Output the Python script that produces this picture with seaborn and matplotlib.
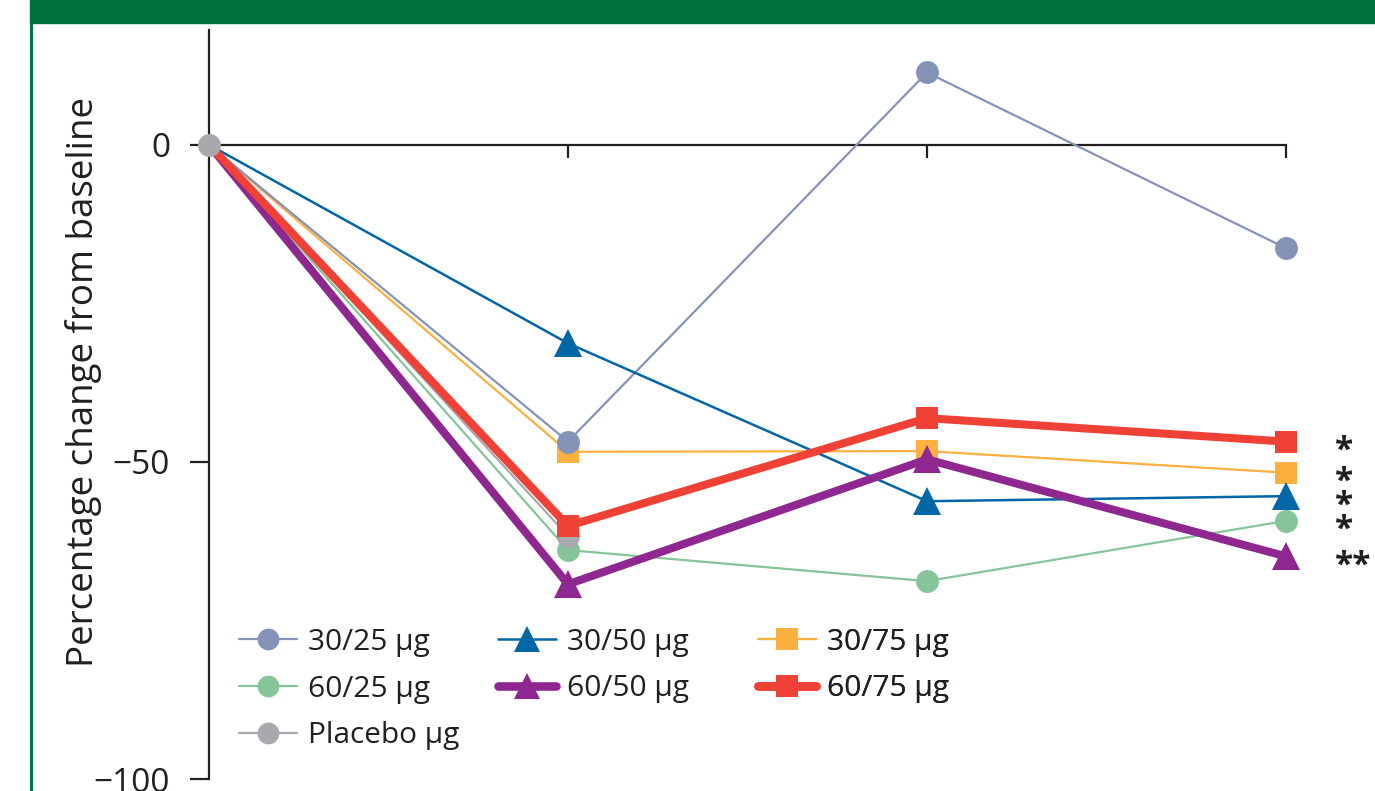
import numpy as np
import pandas as pd
import matplotlib
matplotlib.use("Agg")
import matplotlib.pyplot as plt
import seaborn as sns
from matplotlib.lines import Line2D
from matplotlib.patches import Rectangle

# visits (0 = baseline)
time = [0, 1, 2, 3]

v_30_25 = [0, -46.8, 11.4, -16.3]
v_30_50 = [0, -31.3, -56.2, -55.4]
v_30_75 = [0, -48.4, -48.3, -51.7]
v_60_25 = [0, -63.9, -68.8, -59.3]
v_60_50 = [0, -69.3, -49.6, -64.9]
v_60_75 = [0, -60.1, -43.1, -46.8]
v_placebo = [0, -61.7, np.nan, np.nan]

stars = {"60/75 μg": "*", "30/75 μg": "*", "30/50 μg": "*", "60/25 μg": "*", "60/50 μg": "**"}

sns.set_style("white")
plt.rcParams['font.family'] = ['Open Sans', 'DejaVu Sans']

ink = '#231f20'
green_frame = '#00703c'

fig = plt.figure(figsize=(13.75, 7.91), dpi=100)
fig.patch.set_facecolor('white')
ax = fig.add_axes([209/1375, 12/791, 1077/1375, 749/791])

series = {
    "30/25 μg": (v_30_25, '#8593b9', 'o', 1.6, 16.5),
    "30/50 μg": (v_30_50, '#0066a6', '^', 1.8, 19.5),
    "30/75 μg": (v_30_75, '#fbb040', 's', 1.6, 16.5),
    "60/25 μg": (v_60_25, '#86c49a', 'o', 1.6, 16.5),
    "60/50 μg": (v_60_50, '#8e278f', '^', 5.8, 19.5),
    "60/75 μg": (v_60_75, '#ef4136', 's', 5.8, 16.5),
    "Placebo μg": (v_placebo, '#a7a9ac', 'o', 1.6, 16.5),
}

draw_order = ["60/25 μg", "30/75 μg", "Placebo μg", "30/25 μg", "30/50 μg", "60/50 μg", "60/75 μg"]
for z, name in enumerate(draw_order):
    vals, col, mk, lw, ms = series[name]
    df = pd.DataFrame({'time': time, 'value': vals}).dropna()
    # baseline marker is only drawn once (placebo), so skip the first point
    sns.lineplot(data=df, x='time', y='value', ax=ax, color=col, marker=mk,
                 linewidth=lw, markersize=ms, markeredgewidth=0, errorbar=None,
                 markevery=slice(1, None), clip_on=False, zorder=3 + z)

# baseline placebo dot sits on top of the others
vals, col, mk, lw, ms = series["Placebo μg"]
ax.plot(time[:1], vals[:1], marker=mk, color=col, markersize=ms,
        markeredgewidth=0, linestyle='none', clip_on=False, zorder=20)

# significance stars at last visit
for name, s in stars.items():
    ax.annotate(s, xy=(time[-1], series[name][0][-1]), xytext=(35, -7),
                textcoords='offset points', fontsize=24, fontweight='bold', color=ink,
                ha='left', va='center', annotation_clip=False)

ax.set_xlim(0, 3)
ax.set_ylim(-100, 18.1)
ax.set_xlabel('')
ax.set_ylabel('')
ax.set_facecolor('white')

for s in ['top', 'right']:
    ax.spines[s].set_visible(False)
ax.spines['left'].set_color(ink)
ax.spines['left'].set_linewidth(1.6)
ax.spines['bottom'].set_position(('data', 0))
ax.spines['bottom'].set_color(ink)
ax.spines['bottom'].set_linewidth(1.6)

ax.set_yticks([0, -50, -100])
ax.set_yticklabels(['0', '−50', '−100'])
ax.set_xticks([1, 2, 3])
ax.set_xticklabels([])
ax.tick_params(axis='y', direction='out', length=14, width=1.6, color=ink,
               labelsize=24, labelcolor=ink, pad=14, left=True)
ax.tick_params(axis='x', direction='out', length=9, width=1.6, color=ink, bottom=True)

fig.text(84/1375, 1 - 382/791, 'Percentage change from baseline', rotation=90,
         ha='center', va='center', fontsize=26.5, color=ink)

# legend: three columns placed separately
leg_cols = [
    (["30/25 μg", "60/25 μg", "Placebo μg"], 239, 689),
    (["30/50 μg", "60/50 μg"], 498, 665.5),
    (["30/75 μg", "60/75 μg"], 758, 665.5),
]
for names, x0, yc in leg_cols:
    handles = []
    for name in names:
        vals, col, mk, lw, ms = series[name]
        lw_leg = 6.2 if lw > 3 else lw
        handles.append(Line2D([0], [0], color=col, marker=mk, linewidth=lw_leg,
                              markersize=ms * 0.95, markeredgewidth=0))
    leg = ax.legend(handles=handles, labels=names, frameon=False,
                    fontsize=21.5, handlelength=1.94, handletextpad=0.37,
                    labelspacing=0.59, loc='center left',
                    bbox_to_anchor=(x0/1375, 1 - yc/791), bbox_transform=fig.transFigure,
                    borderaxespad=0, borderpad=0, labelcolor=ink)
    ax.add_artist(leg)

# green frame around panel
fig.patches.append(Rectangle((30/1375, 1 - 23/791), 1 - 30/1375, 23/791,
                             transform=fig.transFigure, color=green_frame, zorder=0))
fig.lines.append(Line2D([31/1375, 31/1375], [0, 1], transform=fig.transFigure,
                        color=green_frame, linewidth=2.2))

fig.savefig('out.png', dpi=100, facecolor='white')
